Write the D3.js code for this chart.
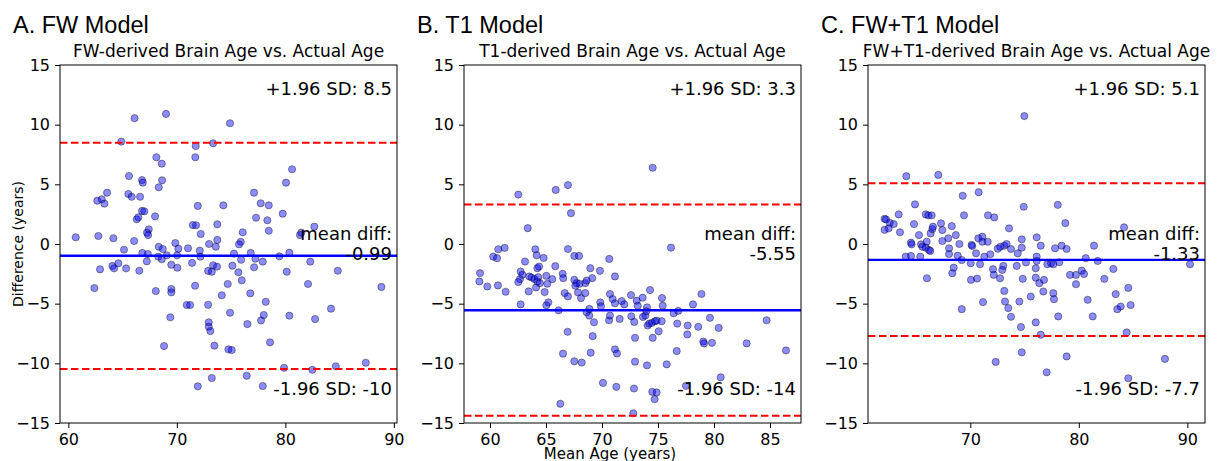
<!DOCTYPE html>
<html>
<head>
<meta charset="utf-8">
<script src="https://cdn.jsdelivr.net/npm/d3@7"></script>
<style>
  body { margin: 0; background: #fff; }
  svg { display: block; font-family: "DejaVu Sans", sans-serif; }
</style>
</head>
<body>
<div id="chart"></div>
<script>
// Bland-Altman data: [mean age, difference]
const fwPoints = [[66.1,10.54],[69.0,10.9],[74.9,10.12],[64.88,8.58],[71.74,8.21],[73.34,8.44],[68.11,7.27],[68.61,6.73],[71.7,7.27],[65.59,5.7],[66.79,5.36],[66.86,5.14],[68.64,5.34],[68.33,4.75],[62.67,3.63],[63.08,3.75],[63.32,3.38],[63.57,4.3],[65.53,4.19],[65.84,3.96],[66.61,3.96],[66.79,2.77],[67.0,2.74],[71.93,3.19],[74.29,3.24],[66.3,2.07],[66.45,2.24],[67.99,2.32],[67.41,1.23],[67.25,0.95],[67.35,0.75],[71.47,1.59],[71.77,1.57],[73.73,1.65],[72.2,0.84],[60.68,0.56],[62.76,0.67],[64.15,0.48],[66.06,0.25],[65.13,-0.48],[66.82,-0.75],[67.32,-0.84],[68.33,-0.23],[68.7,-0.42],[68.29,-1.06],[68.61,-1.28],[69.07,-0.95],[69.86,0.08],[70.14,-0.39],[70.02,-0.95],[71.03,-0.36],[72.11,-0.56],[72.97,0],[73.59,-0.23],[73.73,0.34],[72.17,-1.06],[67.23,-1.45],[69.49,-1.74],[70.05,-1.99],[71.4,-1.59],[64.06,-1.84],[64.61,-1.62],[62.92,-2.12],[73.34,-1.79],[73.7,-1.9],
  [80.62,6.26],[80.06,5.14],[77.11,4.3],[77.73,3.41],[78.47,3.24],[77.3,2.2],[78.34,1.99],[79.76,2.54],[78.47,1.11],[76.07,0.98],[75.89,0.19],[75.73,-0.03],[81.47,0.95],[81.35,0.75],[82.67,1.45],[75.27,-0.81],[75.92,-1.32],[75.12,-1.82],[76.81,-0.75],[77.24,-1.23],[77.12,-1.95],[77.92,-1.48],[79.45,-1.03],[80.37,-0.73],[82.3,-1.48],[84.83,-2.24],
  [62.4,-3.69],[64.21,-2.04],[65.32,-2.04],[66.54,-2.24],[68.06,-3.94],[69.49,-3.77],[69.49,-4.05],[71.68,-3.5],[70.91,-5.11],[71.22,-5.11],[72.88,-5.09],[69.4,-6.14],[68.82,-8.55],[72.88,-2.26],[73.22,-2.32],[74.14,-4.3],[74.69,-3.35],[72.94,-6.56],[72.94,-6.93],[73.09,-7.29],[73.46,-8.52],[73.22,-11.23],[71.93,-11.93],[74.75,-8.83],[74.9,-5.76],
  [75.67,-2.37],[75.98,-3.04],[76.77,-4.13],[80.13,-2.32],[82.09,-3.35],[78.19,-4.84],[76.5,-6.71],[77.76,-6.4],[78.01,-5.95],[80.37,-6.01],[82.74,-6.29],[84.21,-5.42],[88.85,-3.6],[78.59,-8.24],[75.06,-8.89],[79.88,-10.37],[82.49,-10.54],[84.65,-10.25],[87.41,-9.95],[76.44,-11.04],[77.92,-11.9]];

const t1Points = [[62.53,4.14],[65.87,4.53],[66.96,4.94],[67.23,2.58],[63.37,1.33],[59.11,-2.44],[59.05,-3.14],[59.76,-3.56],[60.29,-1.06],[60.63,-1.19],[60.74,-0.44],[61.31,-0.33],[60.71,-3.47],[61.4,-4.0],[63.13,-1.47],[62.74,-2.31],[62.89,-2.58],[62.68,-2.94],[62.53,-3.19],[62.74,-5.06],[63.46,-3.97],[63.51,-2.72],[63.72,-2.81],[64.05,-0.44],[64.17,-0.94],[64.79,-1.17],[63.96,-2.94],[64.23,-3.14],[64.31,-2.78],[64.23,-2.03],[64.38,-1.89],[64.11,-3.64],[64.46,-3.28],[64.88,-4.03],[65.03,-2.67],[65.12,-3.33],[65.56,-2.94],[65.83,-1.86],[65.21,-4.89],[65.03,-5.14],[66.13,-5.56],[66.49,-2.5],[66.54,-2.86],[66.67,-4.11],[66.96,-4.39],[66.96,-0.42],[67.53,-1.0],[67.95,-1.0],[67.53,-3.0],[67.74,-3.28],[67.62,-3.5],[67.86,-4.06],[68.13,-4.53],[68.0,-3.33],[68.51,-3.28],[68.63,-3.06],[69.13,-2.86],[68.51,-4.11],[68.96,-2.03],[69.82,-2.25],[70.65,-1.25],[70.71,-4.19],[70.95,-4.61],[71.16,-4.97],[71.16,-2.72],[68.63,-5.72],[68.87,-6.0],[69.85,-4.89],[69.91,-5.22],
  [74.53,6.39],[76.16,-0.31],[71.76,-4.78],[71.99,-5.06],[72.59,-4.28],[73.1,-4.75],[73.63,-4.5],[74.29,-3.86],[75.36,-4.53],[74.02,-5.31],[75.42,-5.17],[76.4,-5.81],[76.81,-5.61],[78.13,-5.06],[78.88,-4.19],[79.64,-6.19],
  [66.93,-7.36],[66.52,-9.19],[67.53,-9.83],[68.19,-9.94],[69.29,-6.56],[69.17,-7.72],[68.99,-9.11],[68.87,-5.44],[70.09,-11.64],[70.63,-6.39],[70.71,-6.0],[71.16,-8.83],[71.34,-9.17],[71.28,-11.97],[71.58,-6.28],[72.62,-6.06],[72.88,-6.53],[72.95,-7.86],[72.95,-9.86],[72.86,-12.11],[72.8,-14.19],[73.19,-5.17],[73.66,-6.11],[73.87,-6.0],[73.96,-5.64],[74.08,-6.83],[74.22,-6.67],[74.46,-6.61],[74.02,-10.17],[74.53,-7.86],[74.49,-12.39],[74.88,-12.44],[74.7,-13.0],[74.73,-6.47],[74.88,-6.42],[75.06,-7.31],[75.33,-6.47],[75.78,-10.08],[76.67,-8.97],[76.72,-6.67],[77.65,-6.83],[77.62,-7.58],[78.6,-6.94],[79.05,-8.17],[79.11,-8.33],[79.82,-8.28],[80.42,-7.03],[80.6,-11.17],[77.5,-11.89],[82.92,-8.33],[84.7,-6.39],[86.43,-8.92],[66.28,-13.39]];

const fwT1Points = [[74.98,10.72],[64.1,5.68],[67.05,5.79],[70.77,4.34],[69.3,4.04],[69.42,2.4],[64.9,3.32],[74.92,3.12],[62.1,2.11],[62.23,2.06],[62.57,1.78],[62.94,1.67],[62.1,1.19],[62.47,1.31],[63.4,2.48],[63.52,0.98],[64.53,0.11],[64.59,-0.03],[64.81,1.67],[65.27,0.75],[65.46,-0.03],[65.58,-0.23],[65.89,-0.31],[64.05,-1.06],[64.53,-1.0],[65.39,-1.06],[65.89,2.48],[66.13,2.4],[66.44,2.4],[65.98,0.19],[66.19,-0.5],[66.31,-0.58],[66.0,-2.87],[66.34,0.89],[66.5,1.25],[66.56,1.45],[67.3,1.73],[67.42,1.17],[67.42,0.25],[67.97,0.48],[68.04,-0.36],[68.04,-0.84],[68.29,1.5],[68.66,0.75],[68.47,-1.98],[68.34,-2.45],[68.99,0],[68.84,-0.98],[69.21,-1.34],[69.21,-5.46],[70.04,-1.61],[70.06,-3.01],[70.12,-0.08],[70.18,-0.17],[70.53,-0.78],[70.62,-2.9],[70.9,-1.7],[70.74,0.48],[71.11,0.61],[71.11,0.19],[71.6,0.19],[71.17,-4.87],[71.29,-1.06],[71.63,2.4],[71.84,-0.86],[72.21,2.23],[72.09,-2.11],[72.16,-2.59],[72.34,-9.88],[72.53,-0.39],[72.76,-0.23],[72.74,-2.87],[73.04,-1.84],[72.95,-2.17],[73.13,-0.14],[73.35,0],[73.57,1.31],[73.13,-3.93],[73.2,-4.82],[73.5,-5.37],[73.75,-6.1],[73.75,-0.42],[74.28,-1.84],[74.37,-0.78],[74.52,-4.82],[74.67,-6.96],[74.74,-9.08],[74.74,0.39],[74.74,-0.31],[74.83,-2.92],
  [78.06,3.28],[78.76,1.75],[75.13,-1.54],[76.12,0.56],[76.49,-0.14],[76.12,-1.06],[76.12,-1.42],[76.03,-2.03],[76.03,-2.82],[76.36,-3.28],[76.79,-3.01],[76.73,-3.98],[75.57,-4.4],[76.03,-6.57],[76.49,-7.6],[77.04,-10.75],[77.1,-1.7],[77.44,-1.61],[77.65,-1.7],[78.2,-1.53],[77.81,-0.36],[78.42,-0.14],[78.88,-0.42],[77.65,-4.12],[77.71,-4.62],[78.11,-6.07],[78.88,-9.42],[79.19,-2.59],[79.74,-2.59],[80.27,-2.23],[80.48,-2.51],[79.74,-3.37],[80.64,-1.19],[81.4,-0.14],[81.74,-1.42],[80.82,-4.68],[81.28,-6.07],[82.35,-2.92],[83.18,-2.09],[84.17,1.4],[83.4,-4.2],[84.56,-3.68],[83.55,-5.46],[83.86,-5.24],[84.78,-5.12],[84.41,-7.41],[84.56,-11.25],[87.94,-9.63],[90.25,-1.7]];

const panelTitles = ['A. FW Model', 'B. T1 Model', 'C. FW+T1 Model'];
const subTitles = ['FW-derived Brain Age vs. Actual Age', 'T1-derived Brain Age vs. Actual Age', 'FW+T1-derived Brain Age vs. Actual Age'];
const meanDiffs = [-0.99, -5.55, -1.33];
const upperLoA = [8.49, 3.30, 5.10];
const lowerLoA = [-10.47, -14.40, -7.70];
const upperLabels = ['8.5', '3.3', '5.1'];
const lowerLabels = ['-10', '-14', '-7.7'];
const xDomains = [[59.23, 90.29], [57.68, 87.77], [60.57, 91.63]];
const xTickValues = [[60, 70, 80, 90], [60, 65, 70, 75, 80, 85], [70, 80, 90]];
const yTickValues = [-15, -10, -5, 0, 5, 10, 15];

const allPoints = [fwPoints, t1Points, fwT1Points];

// Layout
const width = 1221, height = 461;
const panelLefts = [60, 464, 868];
const pw = 337, plotTop = 65, ph = 358;

const svg = d3.select('#chart').append('svg')
  .attr('width', width)
  .attr('height', height);

const minus = d => (d < 0 ? '\u2212' + Math.abs(d) : String(d));

allPoints.forEach((pts, i) => {
  const g = svg.append('g').attr('transform', `translate(${panelLefts[i]},${plotTop})`);

  const x = d3.scaleLinear().domain(xDomains[i]).range([0, pw]);
  const y = d3.scaleLinear().domain([-15, 15]).range([ph, 0]);

  // clip for marks
  svg.append('clipPath').attr('id', `clip-${i}`)
    .append('rect').attr('width', pw).attr('height', ph);

  const plot = g.append('g').attr('clip-path', `url(#clip-${i})`);

  // Points
  plot.selectAll('circle')
    .data(pts)
    .enter()
    .append('circle')
    .attr('cx', d => x(d[0]))
    .attr('cy', d => y(d[1]))
    .attr('r', 3.6)
    .attr('fill', '#0000ff')
    .attr('fill-opacity', 0.45)
    .attr('stroke', '#000')
    .attr('stroke-opacity', 0.4)
    .attr('stroke-width', 1);

  // Mean line
  plot.append('line')
    .attr('x1', 0).attr('x2', pw)
    .attr('y1', y(meanDiffs[i])).attr('y2', y(meanDiffs[i]))
    .attr('stroke', '#0000ff')
    .attr('stroke-width', 2.4);

  // Limits of agreement
  [upperLoA[i], lowerLoA[i]].forEach(v => {
    plot.append('line')
      .attr('x1', 0).attr('x2', pw)
      .attr('y1', y(v)).attr('y2', y(v))
      .attr('stroke', '#ff0000')
      .attr('stroke-width', 2)
      .attr('stroke-dasharray', '7.5,3.5');
  });

  // Axes
  const xAxis = g.append('g')
    .attr('transform', `translate(0,${ph})`)
    .call(d3.axisBottom(x).tickValues(xTickValues[i]).tickSize(5).tickPadding(6).tickFormat(minus));
  const yAxis = g.append('g')
    .call(d3.axisLeft(y).tickValues(yTickValues).tickSize(5).tickPadding(5).tickFormat(minus));

  [xAxis, yAxis].forEach(a => {
    a.select('.domain').remove();
    a.selectAll('text').attr('fill', '#000').attr('font-size', '16px')
      .attr('font-family', '"DejaVu Sans", sans-serif');
    a.selectAll('line').attr('stroke', '#000');
  });

  // Spine
  g.append('rect')
    .attr('width', pw).attr('height', ph)
    .attr('fill', 'none')
    .attr('stroke', '#000')
    .attr('stroke-width', 1);

  // Annotations
  const ann = g.append('g')
    .attr('text-anchor', 'end')
    .attr('font-size', '18px')
    .attr('fill', '#000');
  ann.append('text').attr('x', pw - 5).attr('y', 30).text(`+1.96 SD: ${upperLabels[i]}`);
  ann.append('text').attr('x', pw - 5).attr('y', 174.5).text('mean diff:');
  ann.append('text').attr('x', pw - 5).attr('y', 194.5).text(meanDiffs[i].toFixed(2));
  ann.append('text').attr('x', pw - 5).attr('y', 330).text(`-1.96 SD: ${lowerLabels[i]}`);

  // Titles
  svg.append('text')
    .attr('x', panelLefts[i] - 47)
    .attr('y', 33)
    .attr('font-family', '"Liberation Sans", Arial, sans-serif')
    .attr('font-size', '23.5px')
    .attr('fill', '#000')
    .text(panelTitles[i]);

  svg.append('text')
    .attr('x', panelLefts[i] + pw / 2)
    .attr('y', 57)
    .attr('text-anchor', 'middle')
    .attr('font-size', '17px')
    .attr('fill', '#000')
    .text(subTitles[i]);
});

// Shared axis labels
svg.append('text')
  .attr('transform', `translate(23,244) rotate(-90)`)
  .attr('text-anchor', 'middle')
  .attr('font-size', '14px')
  .attr('fill', '#000')
  .text('Difference (years)');

svg.append('text')
  .attr('x', 610)
  .attr('y', 459)
  .attr('text-anchor', 'middle')
  .attr('font-size', '15px')
  .attr('fill', '#000')
  .text('Mean Age (years)');
</script>
</body>
</html>
